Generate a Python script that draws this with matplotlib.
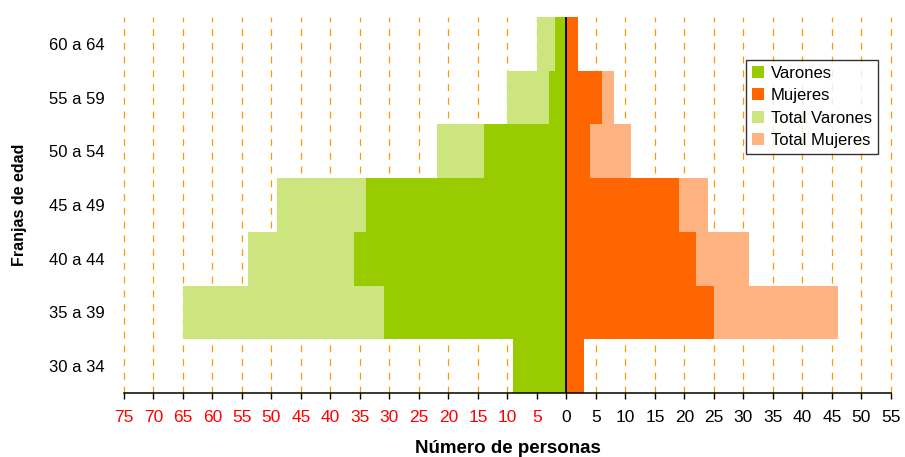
import numpy as np
import matplotlib
matplotlib.use('Agg')
import matplotlib.pyplot as plt

plt.rcParams['font.family'] = ['Liberation Sans', 'DejaVu Sans']

# Population pyramid data by age band
edades = ['30 a 34', '35 a 39', '40 a 44', '45 a 49', '50 a 54', '55 a 59', '60 a 64']
varones = [9, 31, 36, 34, 14, 3, 2]
mujeres = [3, 25, 22, 19, 4, 6, 2]
total_varones = [9, 65, 54, 49, 22, 10, 5]
total_mujeres = [3, 46, 31, 24, 11, 8, 2]

x_ticks = list(range(-75, 60, 5))

fig = plt.figure(figsize=(9.05, 4.57), dpi=100)
ax = fig.add_axes([0.137, 0.140, 0.8475, 0.823])

y = np.arange(len(edades))

# dashed orange verticals behind the bars
for t in x_ticks:
    ax.axvline(t, color='#FF9900', lw=0.9, ls=(0, (5.5, 5.5)), zorder=0, clip_on=False)

# totals underneath, partial groups on top
tv = ax.barh(y, -np.array(total_varones), height=1.0, color='#CCE57F', zorder=1, label='Total Varones')
tm = ax.barh(y, total_mujeres, height=1.0, color='#FFB380', zorder=1, label='Total Mujeres')
v = ax.barh(y, -np.array(varones), height=1.0, color='#99CC00', zorder=2, label='Varones')
m = ax.barh(y, mujeres, height=1.0, color='#FF6600', zorder=2, label='Mujeres')

ax.axvline(0, color='black', lw=1.3, zorder=3)

ax.set_xlim(-75, 55)
ax.set_ylim(-0.5, len(edades) - 0.5)

ax.set_xticks(x_ticks)
ax.set_xticklabels([str(abs(t)) for t in x_ticks], fontsize=12.5)
for lab, t in zip(ax.get_xticklabels(), x_ticks):
    lab.set_color('red' if t < 0 else 'black')
ax.tick_params(axis='x', direction='out', length=4, width=1, pad=8, color='black')

ax.set_yticks(y)
ax.set_yticklabels(edades, fontsize=12)
ax.tick_params(axis='y', length=0, pad=14)

for s in ['top', 'right', 'left']:
    ax.spines[s].set_visible(False)
ax.spines['bottom'].set_linewidth(1.1)

ax.set_xlabel('Número de personas', fontsize=13.5, fontweight='bold', labelpad=11)
ax.set_ylabel('Franjas de edad', fontsize=11.5, fontweight='bold', labelpad=16)

leg = ax.legend(handles=[v, m, tv, tm], loc='upper left', bbox_to_anchor=(0.811, 0.886),
                fontsize=12, frameon=True, fancybox=False, edgecolor='black',
                handlelength=0.75, handleheight=0.75, handletextpad=0.4,
                labelspacing=0.45, borderpad=0.35, borderaxespad=0)
leg.get_frame().set_linewidth(1.0)

fig.savefig('out.png', dpi=100)
